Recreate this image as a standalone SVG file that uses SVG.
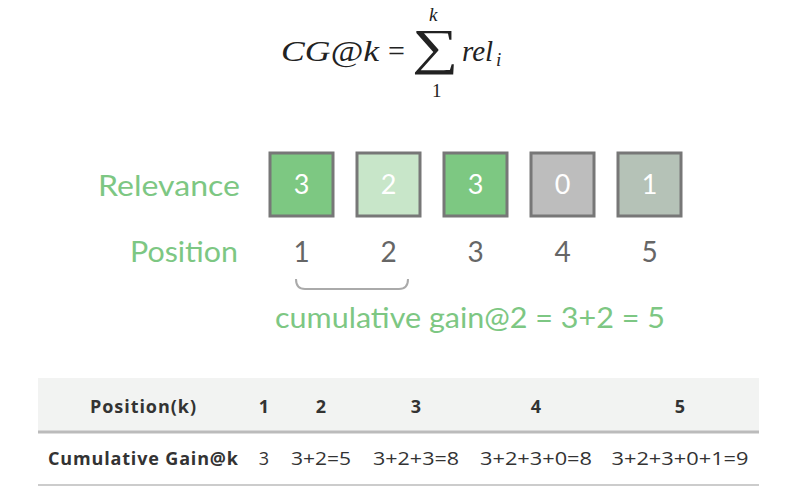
<svg xmlns="http://www.w3.org/2000/svg" width="790" height="493" viewBox="0 0 790 493">
<style>
.math{font-family:"Liberation Serif","DejaVu Serif",serif;font-style:italic;fill:#222}
.mathn{font-family:"Liberation Serif","DejaVu Serif",serif;fill:#222}
.lbl{font-family:"Lato","Noto Sans",sans-serif;fill:#7dc783;font-size:28px}
.num{font-family:"Lato","Noto Sans",sans-serif;fill:#666;font-size:28px;text-anchor:middle}
.box{stroke:#777;stroke-width:3}
.bt{font-family:"Lato","Noto Sans",sans-serif;fill:#fff;font-size:27px;text-anchor:middle}
.th{font-family:"Open Sans","Noto Sans",sans-serif;font-weight:bold;font-size:18px;fill:#333;text-anchor:middle}
.td{font-family:"Open Sans","Noto Sans",sans-serif;font-size:18px;fill:#333;text-anchor:middle}
</style>
<rect width="790" height="493" fill="#fff"/>
<g id="formula">
<text class="math" x="281" y="61" font-size="29" textLength="98" lengthAdjust="spacingAndGlyphs">CG@k</text>
<text class="mathn" x="388" y="61" font-size="30">=</text>
<text class="mathn" transform="translate(412,64) scale(1.3,1)" x="0" y="0" font-size="50">∑</text>
<text class="math" x="429" y="21" font-size="19">k</text>
<text class="mathn" x="432" y="97" font-size="19">1</text>
<text class="math" x="462" y="61" font-size="29">rel</text>
<text class="math" x="496" y="66" font-size="19">i</text>
</g>
<g id="labels">
<text class="lbl" x="98" y="196" textLength="142" lengthAdjust="spacingAndGlyphs">Relevance</text>
<text class="lbl" x="130" y="262" textLength="108" lengthAdjust="spacingAndGlyphs">Position</text>
</g>
<g id="box1"><rect class="box" x="270" y="153" width="63" height="63" fill="#7dc882"/><text class="bt" x="301.5" y="194">3</text></g>
<g id="box2"><rect class="box" x="357" y="153" width="63" height="63" fill="#c8e6c9"/><text class="bt" x="388.5" y="194">2</text></g>
<g id="box3"><rect class="box" x="444" y="153" width="63" height="63" fill="#7dc882"/><text class="bt" x="475.5" y="194">3</text></g>
<g id="box4"><rect class="box" x="531" y="153" width="63" height="63" fill="#bdbdbd"/><text class="bt" x="562.5" y="194">0</text></g>
<g id="box5"><rect class="box" x="618" y="153" width="63" height="63" fill="#b5c2b7"/><text class="bt" x="649.5" y="194">1</text></g>
<g id="positions">
<text class="num" x="301.5" y="262">1</text>
<text class="num" x="388.5" y="262">2</text>
<text class="num" x="475.5" y="262">3</text>
<text class="num" x="562.5" y="262">4</text>
<text class="num" x="649.5" y="262">5</text>
</g>
<g id="connectors">
<path d="M296,279 Q296,289 305,289 L399,289 Q408,289 408,279" fill="none" stroke="#aaa" stroke-width="2"/>
</g>
<g id="caption">
<text class="lbl" x="275" y="328" font-size="28" textLength="390" lengthAdjust="spacingAndGlyphs">cumulative gain@2 = 3+2 = 5</text>
</g>
<g id="table">
<rect x="38" y="378" width="721" height="53" fill="#f2f3f2"/>
<line x1="38" y1="432" x2="759" y2="432" stroke="#bbb" stroke-width="3"/>
<line x1="38" y1="485" x2="759" y2="485" stroke="#ccc" stroke-width="2"/>
<text class="th" x="143" y="413" textLength="106">Position(k)</text>
<text class="th" x="264" y="413">1</text>
<text class="th" x="321" y="413">2</text>
<text class="th" x="416" y="413">3</text>
<text class="th" x="536" y="413">4</text>
<text class="th" x="680" y="413">5</text>
<text class="th" x="143" y="465" textLength="190">Cumulative Gain@k</text>
<text class="td" x="264" y="465">3</text>
<text class="td" x="321" y="465" textLength="60" lengthAdjust="spacingAndGlyphs">3+2=5</text>
<text class="td" x="416" y="465" textLength="86" lengthAdjust="spacingAndGlyphs">3+2+3=8</text>
<text class="td" x="536" y="465" textLength="112" lengthAdjust="spacingAndGlyphs">3+2+3+0=8</text>
<text class="td" x="680" y="465" textLength="137" lengthAdjust="spacingAndGlyphs">3+2+3+0+1=9</text>
</g>
</svg>
